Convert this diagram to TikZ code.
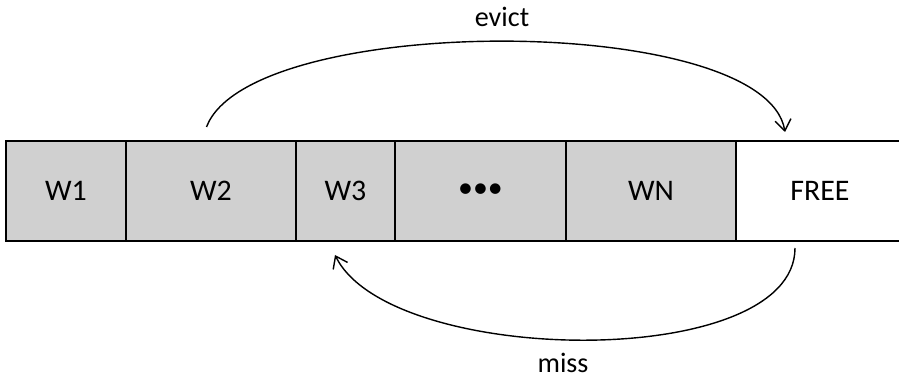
\documentclass[tikz,border=0pt]{standalone}
\usepackage{fontspec}
\setmainfont{Carlito}
\usetikzlibrary{arrows.meta,positioning}
\definecolor{cellgray}{RGB}{208,208,208}
\tikzset{
  cell/.style={draw,line width=1.1pt,fill=cellgray,minimum height=2cm,inner sep=0pt,outer sep=0pt,font=\fontsize{17}{20}\selectfont},
  freecell/.style={cell,fill=white},
  flow/.style={line width=0.8pt,-{Straight Barb[length=2.2mm,width=3.2mm]}},
  flowlabel/.style={font=\fontsize{16}{19}\selectfont,inner sep=1pt}
}

\begin{document}
\begin{tikzpicture}
	\useasboundingbox (0,0) rectangle (17.98,7.54);
	
	% row of ways
	\node[cell,minimum width=2.4cm] (w1) at (1.32,3.72) {W1};
	\node[cell,minimum width=3.4cm,right=0pt of w1] (w2) {W2};
	\node[cell,minimum width=1.98cm,right=0pt of w2] (w3) {W3};
	\node[cell,minimum width=3.42cm,right=0pt of w3] (dots) {\textbullet\textbullet\textbullet};
	\node[cell,minimum width=3.4cm,right=0pt of dots] (wn) {WN};
	\node[freecell,minimum width=3.36cm,right=0pt of wn] (free) {FREE};
	
	% evict over the top, miss underneath
	\draw[flow] ([xshift=-0.09cm,yshift=0.28cm]w2.north) .. controls +(0.87,2.3) and +(-0.4,2.4) .. ([xshift=-0.70cm,yshift=0.18cm]free.north);
	\draw[flow] ([xshift=-0.5cm,yshift=-0.14cm]free.south) .. controls +(0,-2.48) and +(1.1,-2.24) .. ([xshift=-0.21cm,yshift=-0.28cm]w3.south);
	
	\node[flowlabel] (evictlbl) at (10.04,7.20) {evict};
	\node[flowlabel] (misslbl) at (11.26,0.29) {miss};
\end{tikzpicture}
\end{document}
